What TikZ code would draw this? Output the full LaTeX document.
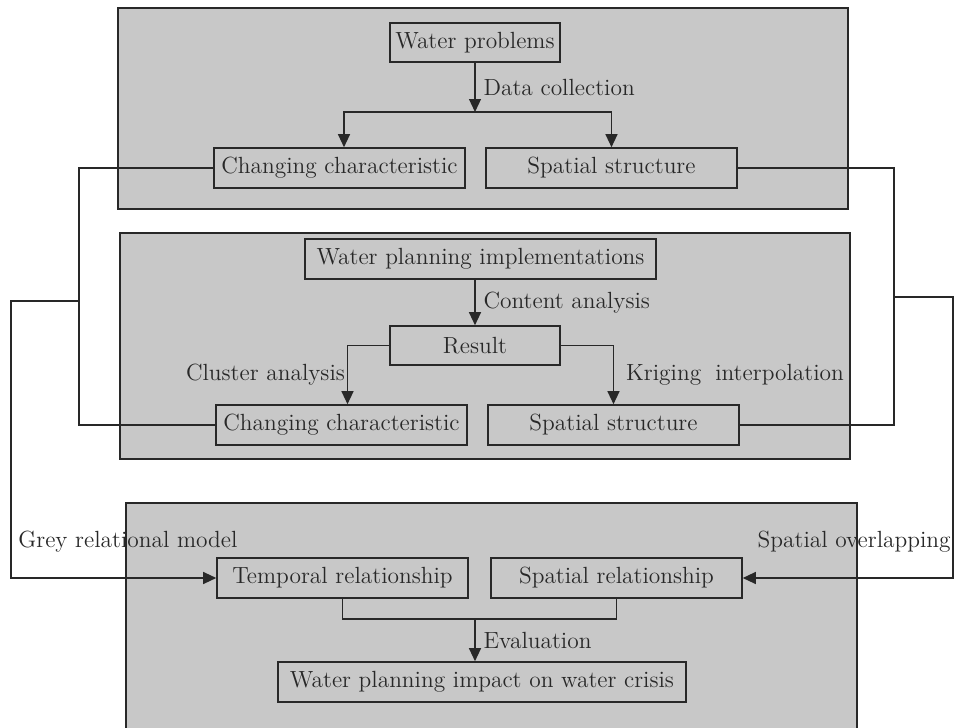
\documentclass[tikz,border=0pt]{standalone}
\usetikzlibrary{arrows.meta}
\definecolor{panelgrey}{RGB}{200,200,200}
\definecolor{inkgrey}{RGB}{40,40,40}
\tikzset{
  panel/.style={draw=inkgrey, fill=panelgrey, line width=0.9pt},
  box/.style={draw=inkgrey, fill=panelgrey, line width=0.8pt, inner xsep=2pt, inner ysep=0pt,
    minimum height=20pt, minimum width=125.5pt, text=inkgrey},
  lbl/.style={inner sep=1pt, text=inkgrey},
  link/.style={draw=inkgrey, line width=0.6pt},
  flow/.style={link, -{Triangle[length=6.5pt,width=6pt]}},
}

\begin{document}
\begin{tikzpicture}[x=0.5pt, y=-0.5pt, font=\fontsize{11.7}{14}\selectfont]
  \useasboundingbox (0,0) rectangle (954,728);
  \clip (0,0) rectangle (954,728);
  \draw[panel] (118,8) rectangle (848,209);
  \draw[panel] (120,233) rectangle (850,459);
  \draw[panel] (126,503) rectangle (857,740);

  \coordinate (split) at (475,112);
  \coordinate (lb) at (79,301);
  \coordinate (ll) at (11,301);
  \coordinate (rb) at (894,297);
  \coordinate (rr) at (953,297);
  \coordinate (join) at (475,619);

  \node[box, minimum width=85pt, minimum height=19.5pt] (wp) at (475,42.5) {Water problems};
  \node[box] (cc1) at (339.5,168) {Changing characteristic};
  \node[box] (ss1) at (611.5,168) {Spatial structure};
  \node[box, minimum width=175.5pt] (wpi) at (480.5,259) {Water planning implementations};
  \node[box, minimum width=85pt, minimum height=19.5pt] (res) at (475,345.5) {Result};
  \node[box] (cc2) at (341.5,425) {Changing characteristic};
  \node[box] (ss2) at (613.5,425) {Spatial structure};
  \node[box] (tr) at (342.5,578) {Temporal relationship};
  \node[box] (sr) at (616.5,578) {Spatial relationship};
  \node[box, minimum width=204pt] (wpc) at (482,682) {Water planning impact on water crisis};
  \node[lbl, anchor=west] (grm) at (16,542) {Grey relational model};
  \node[lbl, anchor=east] (sol) at (953,542) {Spatial overlapping};

  \draw[flow] (wp) -- node[lbl, right, xshift=3pt] {Data collection} (split);
  \draw[flow] (split) -| ([xshift=2.25pt]cc1.north);
  \draw[flow] (split) -| (ss1.north);

  \draw[flow] (res |- wpi.south) -- node[lbl, right, xshift=3pt] {Content analysis} (res);
  \draw[flow] (res.west) -| node[lbl, left, pos=0.75] {Cluster analysis} ([xshift=3pt]cc2.north);
  \draw[flow] (res.east) -| node[lbl, right, pos=0.75, xshift=5pt] {Kriging\hspace{0.6em}interpolation} (ss2.north);

  \draw[link] (cc1.west) -| (lb) |- (cc2.west);
  \draw[flow] (lb) -- (ll) |- (tr.west);
  \draw[link] (ss1.east) -| (rb) |- (ss2.east);
  \draw[flow] (rb) -- (rr) |- (sr.east);

  \draw[link] (tr.south) |- (join) -| (sr.south);
  \draw[flow] (join) -- node[lbl, right, xshift=3pt] {Evaluation} (join |- wpc.north);
\end{tikzpicture}
\end{document}
